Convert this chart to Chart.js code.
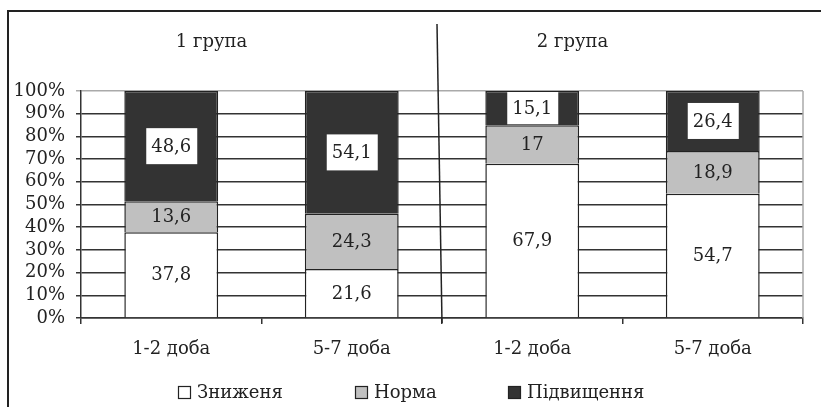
<!DOCTYPE html>
<html>
<head>
<meta charset="utf-8">
<script src="https://cdn.jsdelivr.net/npm/chart.js@4"></script>
<style>
  html, body { margin: 0; padding: 0; background: #fff; }
  #wrap { width: 821px; height: 407px; position: relative; }
</style>
</head>
<body>
<div id="wrap"><canvas id="c" width="821" height="407"></canvas></div>
<script>
// 100% stacked bars: two groups, two periods each
const categories = ['1-2 доба', '5-7 доба', '1-2 доба', '5-7 доба'];
const groupNames = ['1 група', '2 група'];
const seriesNames = ['Зниженя', 'Норма', 'Підвищення'];
const lowered = [37.8, 21.6, 67.9, 54.7];
const normal = [13.6, 24.3, 17, 18.9];
const raised = [48.6, 54.1, 15.1, 26.4];
const yTicks = [0, 10, 20, 30, 40, 50, 60, 70, 80, 90, 100];

const FONT = 'DejaVu Serif, serif';
const FS = 18;
const INK = '#222';
const fills = ['#ffffff', '#c0c0c0', '#333333'];

const fmt = (v) => String(v).replace('.', ',');

const decor = {
  id: 'decor',
  beforeDraw(chart) {
    const { ctx, width, height } = chart;
    ctx.save();
    ctx.fillStyle = '#fff';
    ctx.fillRect(0, 0, width, height);
    // outer frame (top + left only)
    ctx.strokeStyle = '#222';
    ctx.lineWidth = 2;
    ctx.beginPath();
    ctx.moveTo(8, height);
    ctx.lineTo(8, 11);
    ctx.lineTo(width, 11);
    ctx.stroke();
    ctx.restore();
  },
  afterDraw(chart) {
    const { ctx, chartArea: a } = chart;
    const x = chart.scales.x;
    ctx.save();
    // light right edge of the plot
    ctx.strokeStyle = '#aaa';
    ctx.lineWidth = 1.5;
    ctx.beginPath();
    ctx.moveTo(a.right, a.top);
    ctx.lineTo(a.right, a.bottom);
    ctx.stroke();
    // divider between groups
    const mid = (x.getPixelForValue(1) + x.getPixelForValue(2)) / 2;
    ctx.strokeStyle = '#222';
    ctx.lineWidth = 1.5;
    ctx.beginPath();
    ctx.moveTo(mid - 5, 24);
    ctx.lineTo(mid, a.bottom + 5);
    ctx.stroke();
    // group captions
    ctx.fillStyle = INK;
    ctx.font = `${FS}px ${FONT}`;
    ctx.textAlign = 'center';
    ctx.textBaseline = 'middle';
    groupNames.forEach((g, i) => {
      const cx = (x.getPixelForValue(i * 2) + x.getPixelForValue(i * 2 + 1)) / 2 - 50;
      ctx.fillText(g, cx, 42);
    });
    // value labels
    chart.data.datasets.forEach((ds, di) => {
      const meta = chart.getDatasetMeta(di);
      meta.data.forEach((bar, i) => {
        const cy = (bar.y + bar.base) / 2;
        if (di === 2) {
          const top = Math.max(cy - 18, bar.y + 1);
          const bot = Math.min(cy + 18, bar.base - 1);
          ctx.fillStyle = '#fff';
          ctx.fillRect(bar.x - 25, top, 51, bot - top);
        }
        ctx.fillStyle = INK;
        ctx.fillText(fmt(ds.data[i]), bar.x, cy + 1);
      });
    });
    // legend
    const items = [178, 355, 508];
    ctx.textAlign = 'left';
    ctx.font = `${FS}px ${FONT}`;
    chart.data.datasets.forEach((ds, di) => {
      const bx = items[di];
      ctx.fillStyle = ds.backgroundColor;
      ctx.fillRect(bx, 386, 13, 13);
      ctx.strokeStyle = INK;
      ctx.lineWidth = 1.2;
      ctx.strokeRect(bx + 0.5, 386.5, 12, 12);
      ctx.fillStyle = INK;
      ctx.fillText(ds.label, bx + 19, 393);
    });
    ctx.restore();
  }
};

new Chart(document.getElementById('c'), {
  type: 'bar',
  data: {
    labels: categories,
    datasets: [lowered, normal, raised].map((d, i) => ({
      label: seriesNames[i],
      data: d,
      backgroundColor: fills[i],
      borderColor: '#222',
      borderWidth: 1.5,
      barPercentage: 0.52,
      categoryPercentage: 1,
    })),
  },
  options: {
    responsive: false,
    animation: false,
    devicePixelRatio: 1,
    layout: { padding: { top: 91, right: 18, bottom: 0, left: 0 } },
    plugins: { legend: { display: false }, tooltip: { enabled: false } },
    scales: {
      x: {
        stacked: true,
        afterFit: (s) => { s.height = 89; },
        grid: { offset: true, drawOnChartArea: false, drawTicks: true, tickLength: 6, color: '#333', lineWidth: 1.5 },
        border: { color: '#333', width: 1.5 },
        ticks: { color: INK, font: { family: FONT, size: FS }, padding: 15 },
      },
      y: {
        stacked: true,
        min: 0,
        max: 100,
        afterFit: (s) => { s.width = 81; },
        afterBuildTicks: (s) => { s.ticks = yTicks.map(v => ({ value: v })); },
        grid: {
          color: (c) => (c.tick && c.tick.value === 100 ? '#aaa' : '#333'),
          lineWidth: 1.5,
          tickLength: 5,
        },
        border: { color: '#333', width: 1.5 },
        ticks: {
          color: INK,
          font: { family: FONT, size: FS },
          padding: 11,
          autoSkip: false,
          callback: (v) => v + '%',
        },
      },
    },
  },
  plugins: [decor],
});
</script>
</body>
</html>
